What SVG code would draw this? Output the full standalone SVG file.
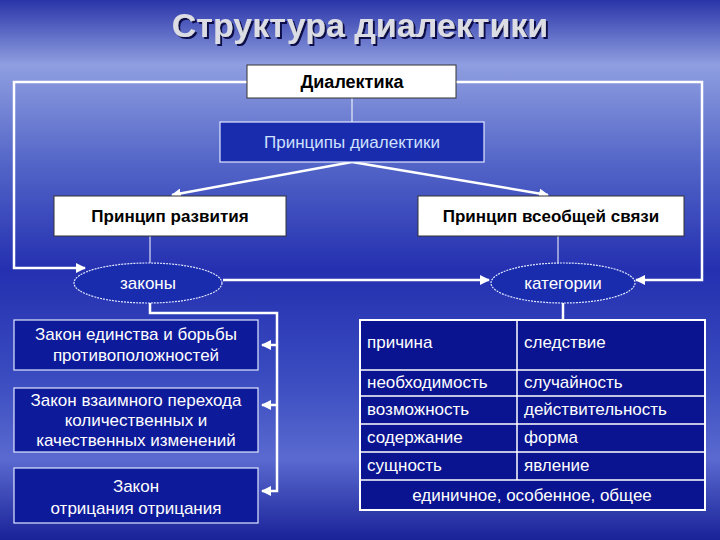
<svg xmlns="http://www.w3.org/2000/svg" width="720" height="540" viewBox="0 0 720 540">
<defs>
<linearGradient id="bg" x1="0" y1="0" x2="0" y2="1">
<stop offset="0" stop-color="#2a35a8"/>
<stop offset="0.12" stop-color="#8f9ee0"/>
<stop offset="0.3" stop-color="#5466c8"/>
<stop offset="0.5" stop-color="#2430b0"/>
<stop offset="0.7" stop-color="#3a4cc0"/>
<stop offset="0.85" stop-color="#5a6ad0"/>
<stop offset="1" stop-color="#1a2298"/>
</linearGradient>
<filter id="sh" x="-10%" y="-30%" width="120%" height="160%"><feDropShadow dx="2" dy="2" stdDeviation="0.5" flood-color="#10104a"/></filter>
<marker id="ar" viewBox="0 0 10 10" refX="9" refY="5" markerWidth="4" markerHeight="4" orient="auto"><path d="M0,0 L10,5 L0,10 z" fill="#fff"/></marker>
<style>
.w{fill:#fff;stroke:#333;stroke-width:1}
.b{fill:#1a2cae;stroke:#dfe6ff;stroke-width:1.2}
.t{font-family:"Liberation Sans",Arial,sans-serif;font-size:17px;text-anchor:middle}
.k{fill:#000;font-weight:bold}
.l{fill:#fff}
.ln{stroke:#fff;stroke-width:2.5;fill:none}
.th{stroke:#fff;stroke-width:1;fill:none}
</style>
</defs>
<rect width="720" height="540" fill="url(#bg)"/>
<text x="360" y="37" class="t" filter="url(#sh)" style="font-size:34px;font-weight:bold;fill:#dcdce4">Структура диалектики</text>
<g id="connectors">
<polyline class="ln" points="247,82 14,82 14,268 85,268" marker-end="url(#ar)"/>
<polyline class="ln" points="456,82 702,82 702,280 636,280" marker-end="url(#ar)"/>
<line class="th" x1="352" y1="98" x2="352" y2="122"/>
<line class="ln" x1="352" y1="162" x2="172" y2="195" marker-end="url(#ar)"/>
<line class="ln" x1="352" y1="162" x2="548" y2="195" marker-end="url(#ar)"/>
<line class="th" x1="150" y1="236" x2="150" y2="263"/>
<line class="th" x1="558" y1="236" x2="558" y2="263"/>
<line class="ln" x1="223" y1="280" x2="489" y2="280" marker-end="url(#ar)"/>
<polyline class="ln" points="150,303 150,313 277,313 277,491 262,491" marker-end="url(#ar)"/>
<line class="ln" x1="277" y1="345" x2="262" y2="345" marker-end="url(#ar)"/>
<line class="ln" x1="277" y1="405" x2="262" y2="405" marker-end="url(#ar)"/>
<line class="ln" x1="563" y1="303" x2="563" y2="320"/>
</g>
<g id="dialektika"><rect class="w" x="247" y="65" width="209" height="33"/><text x="352" y="88" class="t k" style="font-size:18px">Диалектика</text></g>
<g id="principy"><rect class="b" x="220" y="122" width="264" height="40"/><text x="352" y="148" class="t" style="fill:#cfe0ff">Принципы диалектики</text></g>
<g id="razvitie"><rect class="w" x="54" y="196" width="232" height="40"/><text x="170" y="222" class="t k">Принцип развития</text></g>
<g id="svyaz"><rect class="w" x="418" y="196" width="266" height="40"/><text x="551" y="222" class="t k">Принцип всеобщей связи</text></g>
<g id="zakony"><ellipse class="b" style="stroke-dasharray:2 1" cx="148" cy="283" rx="74" ry="20"/><text x="148" y="289" class="t l">законы</text></g>
<g id="kategorii"><ellipse class="b" style="stroke-dasharray:2 1" cx="563" cy="283" rx="72" ry="20"/><text x="563" y="289" class="t l">категории</text></g>
<g id="zakon1"><rect class="b" style="fill:#0d1a9a" x="14" y="320" width="244" height="50"/><text x="136" y="340" class="t l">Закон единства и борьбы</text><text x="136" y="361" class="t l">противоположностей</text></g>
<g id="zakon2"><rect class="b" style="fill:#0d1a9a" x="14" y="388" width="244" height="64"/><text x="136" y="406" class="t l">Закон взаимного перехода</text><text x="136" y="426" class="t l">количественных и</text><text x="136" y="446" class="t l">качественных изменений</text></g>
<g id="zakon3"><rect class="b" style="fill:#0d1a9a" x="14" y="468" width="244" height="55"/><text x="136" y="492" class="t l">Закон</text><text x="136" y="514" class="t l">отрицания  отрицания</text></g>
<g id="table">
<rect x="360" y="320" width="345" height="190" fill="#0a1490" stroke="#fff" stroke-width="2"/>
<g class="th" style="stroke-width:1.5"><line x1="517" y1="320" x2="517" y2="480"/><line x1="360" y1="370" x2="705" y2="370"/><line x1="360" y1="396" x2="705" y2="396"/><line x1="360" y1="424" x2="705" y2="424"/><line x1="360" y1="452" x2="705" y2="452"/><line x1="360" y1="480" x2="705" y2="480"/></g>
<g class="t l" style="text-anchor:start">
<text x="367" y="348">причина</text><text x="524" y="348">следствие</text>
<text x="367" y="388">необходимость</text><text x="524" y="388">случайность</text>
<text x="367" y="415">возможность</text><text x="524" y="415">действительность</text>
<text x="367" y="443">содержание</text><text x="524" y="443">форма</text>
<text x="367" y="471">сущность</text><text x="524" y="471">явление</text>
</g>
<text x="532" y="501" class="t l">единичное, особенное, общее</text>
</g>
</svg>
